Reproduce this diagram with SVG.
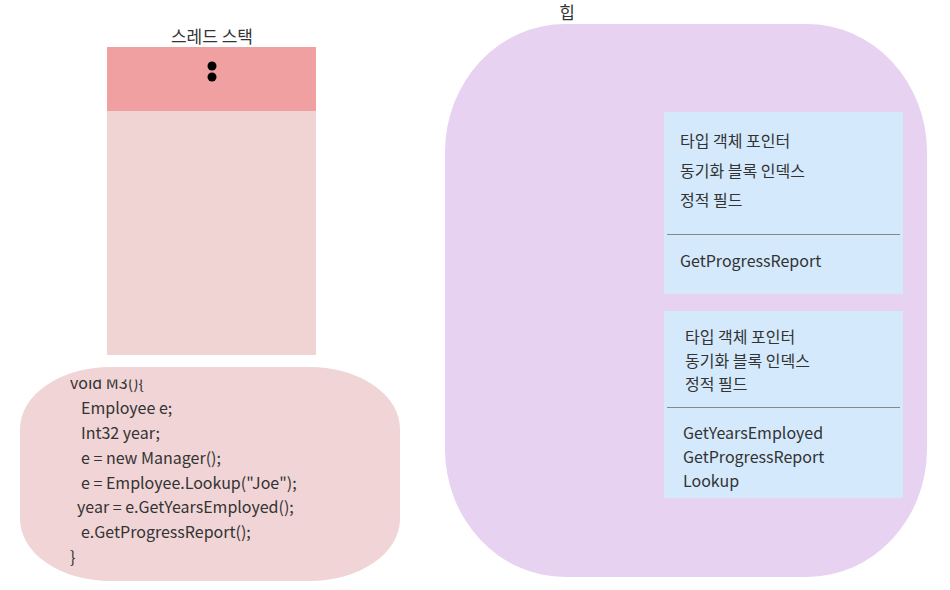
<svg xmlns="http://www.w3.org/2000/svg" width="950" height="590" viewBox="0 0 950 590">
<style>
text{font-family:"Noto Sans CJK KR","Noto Sans",sans-serif;fill:#333;font-size:16px}
.title{font-size:17px}
.box{fill:#d4eafc}
.sep{stroke:#888;stroke-width:1}
</style>
<defs>
<clipPath id="codeclip"><rect x="0" y="379.5" width="450" height="212"/></clipPath>
</defs>
<rect width="950" height="590" fill="#fff"/>
<g id="heap">
<rect x="445" y="24" width="482" height="553" rx="120" ry="128" fill="#e8d2f2"/>
<text class="title" x="567" y="19" text-anchor="middle">힙</text>
</g>
<g id="stack">
<text class="title" x="212" y="43" text-anchor="middle">스레드 스택</text>
<rect x="107" y="111" width="209" height="244" fill="#f0d4d4"/>
<rect x="107" y="47" width="209" height="64" fill="#f0a0a0"/>
<circle cx="212" cy="66" r="4.5" fill="#000"/>
<circle cx="212" cy="77" r="4.5" fill="#000"/>
</g>
<g id="code">
<rect x="20" y="367" width="380" height="214" rx="90" ry="62" fill="#f0d4d6"/>
<g clip-path="url(#codeclip)">
<text x="70" y="389">void M3(){</text>
</g>
<text x="81" y="414">Employee e;</text>
<text x="81" y="439">Int32 year;</text>
<text x="81" y="464">e = new Manager();</text>
<text x="81" y="489">e = Employee.Lookup("Joe");</text>
<text x="77" y="513">year = e.GetYearsEmployed();</text>
<text x="81" y="538">e.GetProgressReport();</text>
<text x="70" y="563">}</text>
</g>
<g id="employee-type">
<rect class="box" x="664" y="112" width="239" height="182"/>
<text x="680" y="147">타입 객체 포인터</text>
<text x="680" y="177">동기화 블록 인덱스</text>
<text x="680" y="206">정적 필드</text>
<line class="sep" x1="667" y1="234.5" x2="900" y2="234.5"/>
<text x="680" y="267">GetProgressReport</text>
</g>
<g id="manager-type">
<rect class="box" x="664" y="311" width="239" height="187"/>
<text x="685" y="343">타입 객체 포인터</text>
<text x="685" y="367">동기화 블록 인덱스</text>
<text x="685" y="390">정적 필드</text>
<line class="sep" x1="667" y1="407.5" x2="900" y2="407.5"/>
<text x="683" y="439">GetYearsEmployed</text>
<text x="683" y="463">GetProgressReport</text>
<text x="683" y="487">Lookup</text>
</g>
<g id="connectors"></g>
</svg>
